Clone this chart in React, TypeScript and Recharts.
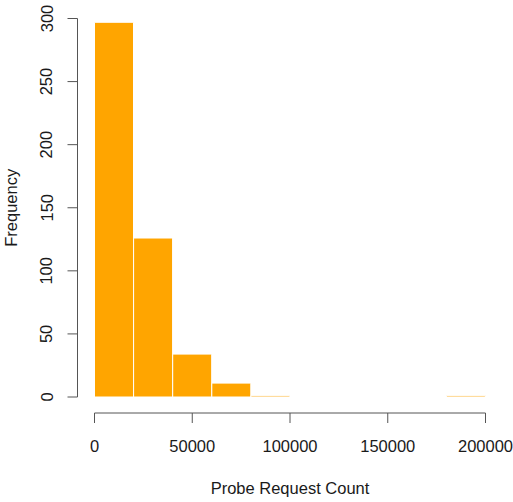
import React from "react";
import { BarChart, Bar, XAxis, YAxis } from "recharts";

const binMids = [10000, 30000, 50000, 70000, 90000, 110000, 130000, 150000, 170000, 190000];
const frequencies = [297, 126, 34, 11, 1, 0, 0, 0, 0, 1];
const xTicks = [0, 50000, 100000, 150000, 200000];
const yTicks = [0, 50, 100, 150, 200, 250, 300];

const data = binMids.map((m, i) => ({ mid: m, freq: frequencies[i] }));

const FONT = '"Liberation Sans", Arial, Helvetica, sans-serif';
const FS = 16.5;
const TXT = "#1a1a1a";
const AX = "#555";

const YTick = (props: any) => {
  const { x, y, payload } = props;
  // x = axis right edge - tickSize - tickMargin
  const axisX = x + 12 - 17;
  const lx = axisX - 25;
  return (
    <g>
      <line x1={axisX - 10} x2={axisX} y1={y} y2={y} stroke={AX} strokeWidth={1} />
      <text
        x={lx}
        y={y}
        transform={`rotate(-90 ${lx} ${y})`}
        textAnchor="middle"
        fontSize={FS}
        fontFamily={FONT}
        fill={TXT}
      >
        {payload.value}
      </text>
    </g>
  );
};

const XTick = (props: any) => {
  const { x, y, payload } = props;
  const axisY = y - 12 + 16;
  return (
    <g>
      <line x1={x} x2={x} y1={axisY} y2={axisY + 10} stroke={AX} strokeWidth={1} />
      <text x={x} y={axisY + 39} textAnchor="middle" fontSize={FS} fontFamily={FONT} fill={TXT}>
        {payload.value}
      </text>
    </g>
  );
};

const YLabel = (props: any) => {
  const vb = props.viewBox || {};
  const cx = vb.x + 17;
  const cy = vb.y + vb.height / 2;
  return (
    <text
      x={cx}
      y={cy}
      transform={`rotate(-90 ${cx} ${cy})`}
      textAnchor="middle"
      fontSize={FS}
      fontFamily={FONT}
      fill={TXT}
    >
      Frequency
    </text>
  );
};

const XLabel = (props: any) => {
  const vb = props.viewBox || {};
  return (
    <text
      x={vb.x + vb.width / 2}
      y={vb.y + 97}
      textAnchor="middle"
      fontSize={FS}
      fontFamily={FONT}
      fill={TXT}
    >
      Probe Request Count
    </text>
  );
};

export default function App() {
  return (
    <div style={{ position: "absolute", left: 0, top: 0, width: 513, height: 502, background: "#fff" }}>
      <BarChart
        width={513}
        height={502}
        data={data}
        margin={{ top: 18.5, right: 27.5, bottom: 0, left: 0 }}
        barCategoryGap={0}
        barGap={0}
      >
        <XAxis
          dataKey="mid"
          type="number"
          domain={[0, 200000]}
          ticks={xTicks}
          height={105}
          tickSize={10}
          axisLine={{ stroke: AX, strokeWidth: 1, transform: "translate(0,16)" }}
          tickLine={false}
          tick={<XTick />}
          interval={0}
          label={<XLabel />}
        />
        <YAxis
          type="number"
          domain={[0, 300]}
          ticks={yTicks}
          width={94.5}
          tickSize={10}
          axisLine={{ stroke: AX, strokeWidth: 1, transform: "translate(-17,0)" }}
          tickLine={false}
          tick={<YTick />}
          interval={0}
          label={<YLabel />}
        />
        <Bar dataKey="freq" fill="#FFA500" stroke="#ffffff" strokeWidth={1} isAnimationActive={false} />
      </BarChart>
    </div>
  );
}
